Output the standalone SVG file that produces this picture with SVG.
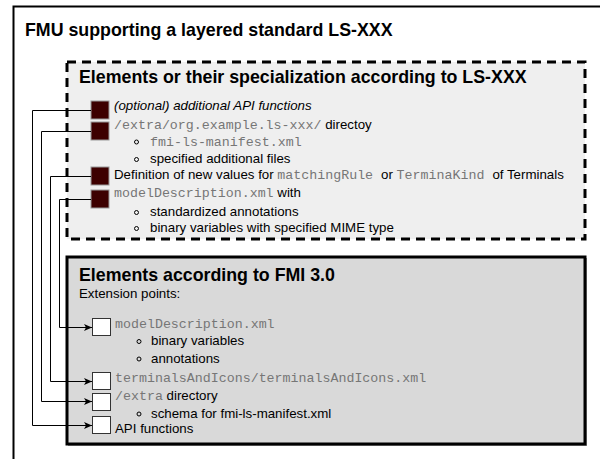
<svg xmlns="http://www.w3.org/2000/svg" width="600" height="459" viewBox="0 0 600 459">
<defs>
<style>
.t{font-family:"Liberation Sans",Arial,sans-serif;font-size:13.3px;fill:#000}
.h{font-family:"Liberation Sans",Arial,sans-serif;font-size:17.8px;font-weight:bold;fill:#000}
.m{font-family:"Liberation Mono","Courier New",monospace;font-size:13.3px;fill:#767676;white-space:pre}
.dk{fill:#3d0000;stroke:#999;stroke-width:1}
.wt{fill:#fff;stroke:#333;stroke-width:1}
.bul{fill:none;stroke:#000;stroke-width:1}
.con{fill:none;stroke:#000;stroke-width:1}
</style>
<marker id="arr" viewBox="0 0 8 7" refX="8" refY="3.5" markerWidth="8" markerHeight="7" markerUnits="userSpaceOnUse" orient="auto">
<path d="M0,0 L8,3.5 L0,7 L2,3.5 Z" fill="#000"/>
</marker>
</defs>
<rect x="0" y="0" width="600" height="459" fill="#fff"/>
<g id="fmu">
<rect x="13.5" y="6.5" width="640" height="480" fill="none" stroke="#000" stroke-width="2"/>
<text class="h" x="25" y="36">FMU supporting a layered standard LS-XXX</text>
</g>
<g id="ls">
<rect x="67" y="62" width="518" height="177" fill="#efefef" stroke="#000" stroke-width="3" stroke-dasharray="9 6"/>
<text class="h" x="79" y="82.5">Elements or their specialization according to LS-XXX</text>
<g id="ls-api">
<rect class="dk" x="91" y="101" width="18" height="18"/>
<text class="t" x="114" y="110" font-style="italic">(optional) additional API functions</text>
</g>
<g id="ls-extra">
<rect class="dk" x="91" y="122" width="18" height="18"/>
<text x="114" y="128.5"><tspan class="m">/extra/org.example.ls-xxx/</tspan><tspan class="t"> directoy</tspan></text>
<circle class="bul" cx="136.5" cy="142" r="2"/>
<text class="m" x="150" y="145.5">fmi-ls-manifest.xml</text>
<circle class="bul" cx="136.5" cy="159.5" r="2"/>
<text class="t" x="150" y="163">specified additional files</text>
</g>
<g id="ls-terminals">
<rect class="dk" x="91" y="167" width="18" height="18"/>
<text x="114" y="178.5" xml:space="preserve"><tspan class="t">Definition of new values for </tspan><tspan class="m">matchingRule </tspan><tspan class="t">or </tspan><tspan class="m">TerminaKind </tspan><tspan class="t">of Terminals</tspan></text>
</g>
<g id="ls-md">
<rect class="dk" x="91" y="190" width="18" height="18"/>
<text x="114" y="196.5"><tspan class="m">modelDescription.xml</tspan><tspan class="t"> with</tspan></text>
<circle class="bul" cx="136.5" cy="212.5" r="2"/>
<text class="t" x="150" y="216">standardized annotations</text>
<circle class="bul" cx="136.5" cy="228.5" r="2"/>
<text class="t" x="150" y="232">binary variables with specified MIME type</text>
</g>
</g>
<g id="fmi">
<rect x="68.5" y="258.5" width="518" height="187" fill="none" stroke="#999" stroke-width="1"/>
<rect x="67" y="257" width="518" height="187" fill="#d9d9d9" stroke="#000" stroke-width="3"/>
<text class="h" x="79" y="281">Elements according to FMI 3.0</text>
<text class="t" x="79" y="297.5">Extension points:</text>
<g id="fmi-md">
<rect class="wt" x="92.5" y="318.5" width="18" height="17"/>
<text class="m" x="115" y="328">modelDescription.xml</text>
<circle class="bul" cx="139" cy="341.5" r="2"/>
<text class="t" x="151" y="345">binary variables</text>
<circle class="bul" cx="139" cy="359" r="2"/>
<text class="t" x="151" y="362.5">annotations</text>
</g>
<g id="fmi-terminals">
<rect class="wt" x="92.5" y="372.5" width="18" height="17"/>
<text class="m" x="115" y="381.5">terminalsAndIcons/terminalsAndIcons.xml</text>
</g>
<g id="fmi-extra">
<rect class="wt" x="92.5" y="393.5" width="18" height="17"/>
<text x="115" y="400"><tspan class="m">/extra</tspan><tspan class="t"> directory</tspan></text>
<circle class="bul" cx="139" cy="414" r="2"/>
<text class="t" x="151" y="417.5">schema for fmi-ls-manifest.xml</text>
</g>
<g id="fmi-api">
<rect class="wt" x="92.5" y="416.5" width="18" height="17"/>
<text class="t" x="115" y="433">API functions</text>
</g>
</g>
<g id="connectors">
<path class="con" d="M91,110.5 H32.5 V425.5 H92" marker-end="url(#arr)"/>
<path class="con" d="M91,131.5 H41.5 V401.5 H92" marker-end="url(#arr)"/>
<path class="con" d="M91,176.5 H50.5 V381.5 H92" marker-end="url(#arr)"/>
<path class="con" d="M91,199.5 H59.5 V327.5 H92" marker-end="url(#arr)"/>
</g>
</svg>
